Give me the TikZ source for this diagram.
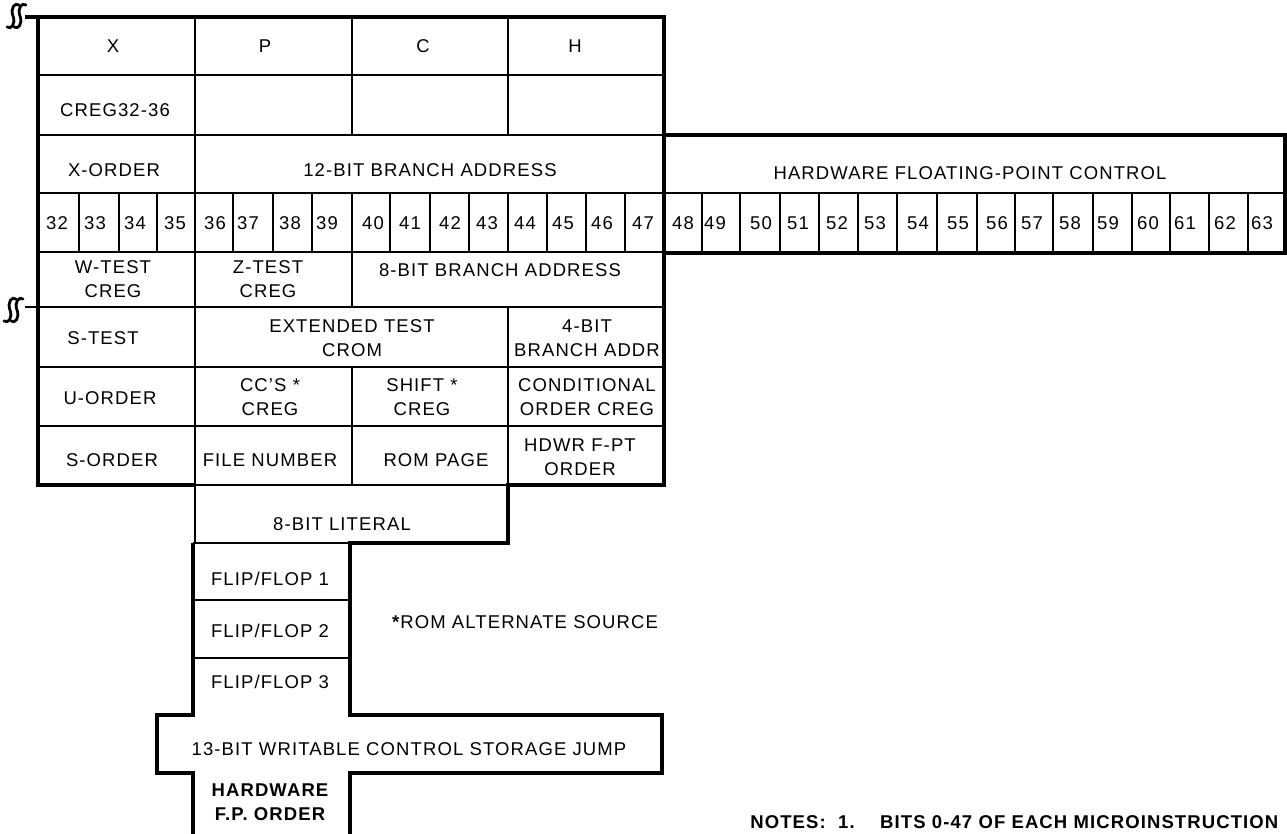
\documentclass[tikz,border=0pt]{standalone}
\usepackage{fontspec}
\setmainfont{Liberation Sans}[LetterSpace=6]
\begin{document}
\begin{tikzpicture}[x=1pt,y=-1pt,
  gridline/.style={line width=2pt},
  outline/.style={line width=4pt,line join=miter},
  lbl/.style={font=\fontsize{18.5}{24}\selectfont,inner sep=0pt,align=center},
  boldlbl/.style={font=\fontsize{18.5}{24}\selectfont\bfseries,inner sep=0pt,align=center},
  breakmark/.style={line width=2.8pt,line cap=round}]
\useasboundingbox[fill=white] (0,0) rectangle (1287,833);

% ---- thin grid lines ----
% horizontal
\draw[gridline] (38,75) -- (664,75);
\draw[gridline] (38,135) -- (664,135);
\draw[gridline] (38,193) -- (1285,193);
\draw[gridline] (38,252) -- (664,252);
\draw[gridline] (25,307) -- (664,307);
\draw[gridline] (38,367) -- (664,367);
\draw[gridline] (38,426) -- (664,426);
\draw[gridline] (195,485) -- (508,485);
\draw[gridline] (193,543) -- (350,543);
\draw[gridline] (193,600) -- (350,600);
\draw[gridline] (193,658) -- (350,658);
% vertical
\draw[gridline] (195,17) -- (195,543);
\draw[gridline] (352,17) -- (352,135);
\draw[gridline] (352,252) -- (352,307);
\draw[gridline] (352,367) -- (352,485);
\draw[gridline] (508,17) -- (508,135);
\draw[gridline] (508,307) -- (508,485);
\foreach \xx in {79,119,157,233,273,312,352,390,430,469,508,547,586,625,
                 702,740,780,819,858,897,937,977,1015,1053,1093,1132,1170,1209,1248}
  \draw[gridline] (\xx,193) -- (\xx,252);

% ---- thick outline ----
\draw[outline] (25,17) -- (664,17) -- (664,135) -- (1285,135) -- (1285,253)
  -- (664,253) -- (664,485) -- (508,485) -- (508,543) -- (350,543) -- (350,715)
  -- (662,715) -- (662,773) -- (350,773) -- (350,840);
\draw[outline] (38,17) -- (38,485) -- (195,485);
\draw[outline] (193,543) -- (193,715) -- (157,715) -- (157,773) -- (193,773) -- (193,840);
\draw[outline] (664,253) -- (664,135);

% ---- break marks ----
\foreach \bx/\by in {13/16,20/16,10/310,17/310}{
  \draw[breakmark] (\bx+6,\by-11) .. controls (\bx+2,\by-14) and (\bx-3,\by-8) .. (\bx,\by)
    .. controls (\bx+3,\by+8) and (\bx-2,\by+14) .. (\bx-6,\by+11);
}

% ---- labels ----
\node[lbl] (x) at (113,46) {X};
\node[lbl] (p) at (265,46) {P};
\node[lbl] (c) at (423,46) {C};
\node[lbl] (h) at (575,46) {H};
\node[lbl] (creg) at (115,110) {CREG32-36};
\node[lbl] (xorder) at (114,170) {X-ORDER};
\node[lbl] (br12) at (430,170) {12-BIT BRANCH ADDRESS};
\node[lbl] (hwfp) at (970,173) {HARDWARE FLOATING-POINT CONTROL};
\foreach \n/\xx in {32/57,33/95,34/135,35/175,36/215,37/248,38/290,39/327,
                    40/373,41/410,42/450,43/487,44/525,45/563,46/602,47/643,
                    48/683,49/715,50/761,51/798,52/837,53/875,54/918,55/958,
                    56/997,57/1032,58/1070,59/1108,60/1148,61/1185,62/1225,63/1262}
  \node[lbl] (n\n) at (\xx,223) {\n};
\node[lbl] (wtest) at (113,279) {W-TEST\\CREG};
\node[lbl] (ztest) at (268,279) {Z-TEST\\CREG};
\node[lbl] (br8) at (500,270) {8-BIT BRANCH ADDRESS};
\node[lbl] (stest) at (103,338) {S-TEST};
\node[lbl] (ext) at (352,338) {EXTENDED TEST\\CROM};
\node[lbl] (br4) at (587,338) {4-BIT\\BRANCH ADDR};
\node[lbl] (uorder) at (110,398) {U-ORDER};
\node[lbl] (ccs) at (270,397) {CC’S *\\CREG};
\node[lbl] (shift) at (422,397) {SHIFT *\\CREG};
\node[lbl] (cond) at (587,397) {CONDITIONAL\\ORDER CREG};
\node[lbl] (sorder) at (112,460) {S-ORDER};
\node[lbl] (file) at (270,460) {FILE NUMBER};
\node[lbl] (rom) at (436,460) {ROM PAGE};
\node[lbl] (hdwr) at (580,457) {HDWR F-PT\\ORDER};
\node[lbl] (lit) at (342,524) {8-BIT LITERAL};
\node[lbl] (ff1) at (270,579) {FLIP/FLOP 1};
\node[lbl] (ff2) at (270,631) {FLIP/FLOP 2};
\node[lbl] (ff3) at (270,682) {FLIP/FLOP 3};
\node[lbl] (alt) at (525,622) {\textbf{*}ROM ALTERNATE SOURCE};
\node[lbl] (wcs) at (409,749) {13-BIT WRITABLE CONTROL STORAGE JUMP};
\node[boldlbl] (hwfpo) at (270,802) {HARDWARE\\F.P. ORDER};
\node[boldlbl,anchor=base east] (notes) at (826,828) {NOTES:};
\node[boldlbl,anchor=base west] (one) at (838,828) {1.};
\node[boldlbl,anchor=base west] (bits) at (880,828) {BITS 0-47 OF EACH MICROINSTRUCTION};
\end{tikzpicture}
\end{document}
